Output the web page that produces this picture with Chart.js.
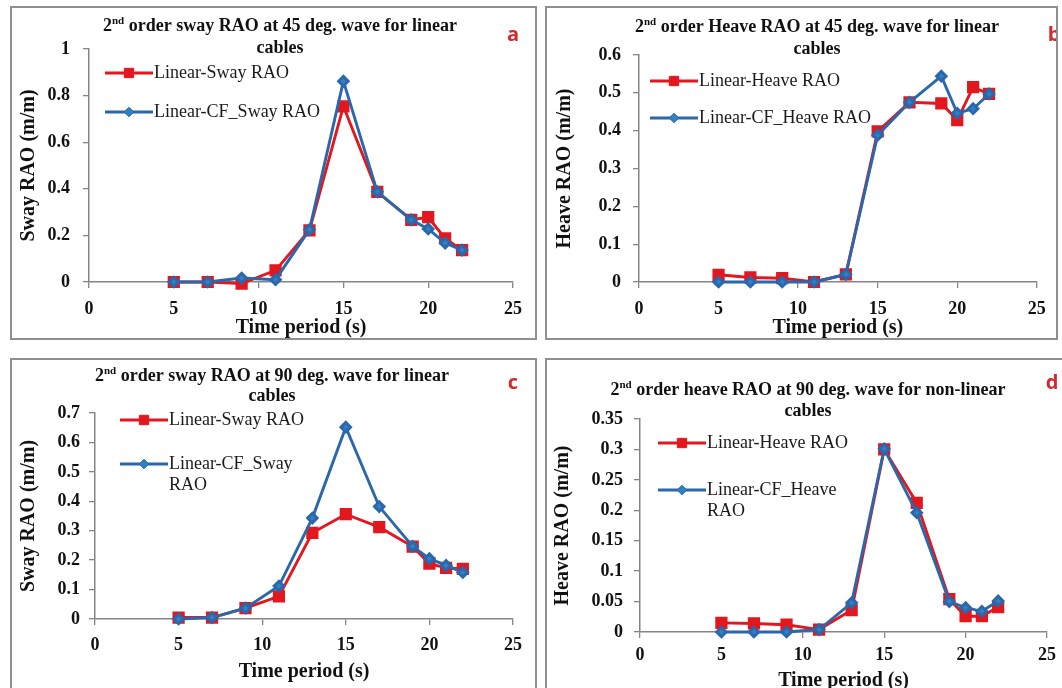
<!DOCTYPE html>
<html>
<head>
<meta charset="utf-8">
<title>2nd order RAO</title>
<script src="https://cdn.jsdelivr.net/npm/chart.js@4.4.0/dist/chart.umd.min.js"></script>
<style>
  html, body { margin: 0; padding: 0; background: #fff; }
  body { width: 1062px; height: 688px; position: relative; overflow: hidden; }
  .panel { position: absolute; border: 2px solid #8f8f8f; background: #fff; }
  .panel canvas { display: block; }
</style>
</head>
<body>
<div class="panel" id="panel-a"><canvas id="chart-a"></canvas></div>
<div class="panel" id="panel-b"><canvas id="chart-b"></canvas></div>
<div class="panel" id="panel-c"><canvas id="chart-c"></canvas></div>
<div class="panel" id="panel-d"><canvas id="chart-d"></canvas></div>
<script>
// wave periods (s)
const periods = [5, 7, 9, 11, 13, 15, 17, 19, 20, 21, 22];
const xTicks = [0, 5, 10, 15, 20, 25];

// a: sway, 45 deg
const swayLinear45 = [0, 0, -0.007, 0.05, 0.222, 0.754, 0.387, 0.267, 0.278, 0.187, 0.137];
const swayCF45 = [0, 0, 0.017, 0.01, 0.225, 0.862, 0.387, 0.267, 0.228, 0.167, 0.137];
const swayTicks45 = [0, 0.2, 0.4, 0.6, 0.8, 1];

// b: heave, 45 deg
const heaveLinear45 = [0.019, 0.012, 0.01, 0, 0.02, 0.398, 0.475, 0.472, 0.428, 0.515, 0.497];
const heaveCF45 = [0, 0, 0, 0, 0.02, 0.388, 0.475, 0.544, 0.446, 0.458, 0.497];
const heaveTicks45 = [0, 0.1, 0.2, 0.3, 0.4, 0.5, 0.6];

// c: sway, 90 deg
const swayLinear90 = [0.005, 0.005, 0.037, 0.077, 0.293, 0.356, 0.312, 0.246, 0.188, 0.174, 0.17];
const swayCF90 = [0, 0.005, 0.037, 0.112, 0.343, 0.652, 0.382, 0.247, 0.205, 0.182, 0.158];
const swayTicks90 = [0, 0.1, 0.2, 0.3, 0.4, 0.5, 0.6, 0.7];

// d: heave, 90 deg
const heaveLinear90 = [0.015, 0.014, 0.012, 0.004, 0.036, 0.3, 0.212, 0.054, 0.026, 0.026, 0.041];
const heaveCF90 = [0, 0, 0, 0.004, 0.048, 0.301, 0.196, 0.05, 0.04, 0.034, 0.051];
const heaveTicks90 = [0, 0.05, 0.1, 0.15, 0.2, 0.25, 0.3, 0.35];

const SERIF = '"Liberation Serif", "Times New Roman", serif';
const RED = '#e3171e';
const BLUE = '#2a67ab';
const BLUE_MARK = '#3280c2';
const AXIS = '#858585';
const BORDER = 2;

// page-coordinate layout of each framed panel
const layouts = {
    a: { box: [10, 6, 537, 340], area: [89, 49, 513, 282], yGap: 19, xGap: 27, yTitleX: 29, xTitleY: 328,
         titleX: 280, titleY: [26, 48], legendX: 105, legendY: [73, 112], legendWrap: 220, letter: [513, 35] },
    b: { box: [545, 6, 1058, 340], area: [639, 55, 1044, 282], yGap: 18, xGap: 27, yTitleX: 565, xTitleY: 328,
         titleX: 817, titleY: [27, 49], legendX: 650, legendY: [81, 118], legendWrap: 240, letter: [1054, 35] },
    c: { box: [10, 358, 537, 700], area: [95, 413, 513, 619], yGap: 15, xGap: 26, yTitleX: 29, xTitleY: 672,
         titleX: 272, titleY: [376, 396], legendX: 120, legendY: [420, 464], legendWrap: 140, letter: [513, 383] },
    d: { box: [545, 358, 1065, 700], area: [640, 419, 1047, 632], yGap: 17, xGap: 23, yTitleX: 563, xTitleY: 681,
         titleX: 808, titleY: [390, 411], legendX: 658, legendY: [443, 490], legendWrap: 150, letter: [1052, 383] }
};

const wrapText = (ctx, text, maxWidth) => {
    if (ctx.measureText(text).width <= maxWidth) return [text];
    const cut = text.lastIndexOf(' ');
    return [text.slice(0, cut), text.slice(cut + 1)];
};

// title with raised ordinal, legend drawn inside the plot, panel letter
const panelDecor = {
    id: 'panelDecor',
    afterDraw(chart, args, opts) {
        const ctx = chart.ctx;
        ctx.save();
        ctx.textBaseline = 'middle';
        ctx.fillStyle = '#111';
        opts.title.forEach((line, i) => {
            const y = opts.titleY[i];
            const m = line.match(/^(\d+)(st|nd|rd|th)(.*)$/);
            ctx.font = 'bold 18px ' + SERIF;
            if (m) {
                const w1 = ctx.measureText(m[1]).width;
                const w3 = ctx.measureText(m[3]).width;
                ctx.font = 'bold 11px ' + SERIF;
                const w2 = ctx.measureText(m[2]).width;
                const x = opts.titleX - (w1 + w2 + w3) / 2;
                ctx.textAlign = 'left';
                ctx.fillText(m[2], x + w1, y - 5);
                ctx.font = 'bold 18px ' + SERIF;
                ctx.fillText(m[1], x, y);
                ctx.fillText(m[3], x + w1 + w2, y);
            } else {
                ctx.textAlign = 'center';
                ctx.fillText(line, opts.titleX, y);
            }
        });

        chart.data.datasets.forEach((ds, i) => {
            const x0 = opts.legendX;
            const y = opts.legendY[i];
            ctx.strokeStyle = ds.borderColor;
            ctx.lineWidth = ds.borderWidth;
            ctx.beginPath();
            ctx.moveTo(x0, y);
            ctx.lineTo(x0 + 48, y);
            ctx.stroke();
            ctx.fillStyle = ds.pointBackgroundColor;
            ctx.strokeStyle = ds.pointBorderColor;
            ctx.lineWidth = 1;
            Chart.helpers.drawPoint(ctx, { pointStyle: ds.pointStyle, radius: ds.pointRadius, borderWidth: 1, rotation: 0 }, x0 + 24, y);
            ctx.font = '18px ' + SERIF;
            ctx.fillStyle = '#1a1a1a';
            ctx.textAlign = 'left';
            wrapText(ctx, ds.label, opts.legendWrap).forEach((t, k) => ctx.fillText(t, x0 + 49, y + k * 21));
        });

        ctx.font = 'bold 20px "Open Sans", "Liberation Sans", sans-serif';
        ctx.fillStyle = '#d42a2f';
        ctx.textAlign = 'center';
        ctx.fillText(opts.letter, opts.letterX, opts.letterY);
        ctx.restore();
    }
};

const makePanel = (key, redLabel, red, blueLabel, blue, yTicks, yTitle, title) => {
    const L = layouts[key];
    const panel = document.getElementById('panel-' + key);
    const [bl, bt, br, bb] = L.box;
    const ox = bl + BORDER, oy = bt + BORDER;
    const w = br - bl - 2 * BORDER, h = bb - bt - 2 * BORDER;
    panel.style.left = bl + 'px';
    panel.style.top = bt + 'px';
    const canvas = document.getElementById('chart-' + key);
    canvas.width = w;
    canvas.height = h;
    canvas.style.width = w + 'px';
    canvas.style.height = h + 'px';

    const [ax0, ayTop, ax1, ayZero] = L.area;
    const tickFont = { family: SERIF, size: 18, weight: 'bold' };
    const titleFont = { family: SERIF, size: 20, weight: 'bold' };
    const tickLen = 6;
    const yStep = yTicks[1] - yTicks[0];

    new Chart(canvas, {
        type: 'line',
        data: {
            datasets: [{
                label: redLabel,
                data: periods.map((p, i) => ({ x: p, y: red[i] })),
                borderColor: RED,
                backgroundColor: RED,
                pointBackgroundColor: RED,
                pointBorderColor: RED,
                pointStyle: 'rect',
                pointRadius: 6.6,
                borderWidth: 2.9,
                tension: 0,
                clip: false,
                order: 2
            }, {
                label: blueLabel,
                data: periods.map((p, i) => ({ x: p, y: blue[i] })),
                borderColor: BLUE,
                backgroundColor: BLUE_MARK,
                pointBackgroundColor: BLUE_MARK,
                pointBorderColor: BLUE,
                pointStyle: 'rectRot',
                pointRadius: 4.8,
                borderWidth: 2.9,
                tension: 0,
                clip: false,
                order: 1
            }]
        },
        options: {
            responsive: false,
            animation: false,
            events: [],
            layout: { padding: { left: 0, top: ayTop - oy, right: ox + w - ax1, bottom: 0 } },
            plugins: {
                legend: { display: false },
                tooltip: { enabled: false },
                panelDecor: {
                    title: title,
                    titleX: L.titleX - ox,
                    titleY: L.titleY.map(v => v - oy),
                    legendX: L.legendX - ox,
                    legendY: L.legendY.map(v => v - oy),
                    legendWrap: L.legendWrap,
                    letter: key,
                    letterX: L.letter[0] - ox,
                    letterY: L.letter[1] - oy
                }
            },
            scales: {
                x: {
                    type: 'linear',
                    min: xTicks[0],
                    max: xTicks[xTicks.length - 1],
                    afterBuildTicks: s => { s.ticks = xTicks.map(v => ({ value: v })); },
                    afterFit: s => { s.height = oy + h - ayZero; },
                    ticks: { font: tickFont, color: '#111', padding: L.xGap - tickLen - 10.8, maxRotation: 0 },
                    grid: { display: true, drawOnChartArea: false, tickLength: tickLen, color: AXIS, lineWidth: 1.3 },
                    border: { color: AXIS, width: 1.5 },
                    title: {
                        display: true,
                        text: 'Time period (s)',
                        font: titleFont,
                        color: '#111',
                        padding: { top: 0, bottom: h - (L.xTitleY - oy) - 12 }
                    }
                },
                y: {
                    min: yTicks[0],
                    max: yTicks[yTicks.length - 1],
                    afterBuildTicks: s => { s.ticks = yTicks.map(v => ({ value: v })); },
                    afterFit: s => { s.width = ax0 - ox; },
                    ticks: {
                        font: tickFont,
                        color: '#111',
                        padding: L.yGap - tickLen,
                        stepSize: yStep,
                        callback: v => String(+v.toFixed(2))
                    },
                    grid: { display: true, drawOnChartArea: false, tickLength: tickLen, color: AXIS, lineWidth: 1.3 },
                    border: { color: AXIS, width: 1.5 },
                    title: {
                        display: true,
                        text: yTitle,
                        font: titleFont,
                        color: '#111',
                        padding: { top: (L.yTitleX - ox) - 12, bottom: 0 }
                    }
                }
            }
        },
        plugins: [panelDecor]
    });
};

makePanel('a', 'Linear-Sway RAO', swayLinear45, 'Linear-CF_Sway RAO', swayCF45, swayTicks45,
    'Sway RAO (m/m)', ['2nd order sway RAO at 45 deg. wave for linear', 'cables']);
makePanel('b', 'Linear-Heave RAO', heaveLinear45, 'Linear-CF_Heave RAO', heaveCF45, heaveTicks45,
    'Heave RAO (m/m)', ['2nd order Heave RAO at 45 deg. wave for linear', 'cables']);
makePanel('c', 'Linear-Sway RAO', swayLinear90, 'Linear-CF_Sway RAO', swayCF90, swayTicks90,
    'Sway RAO (m/m)', ['2nd order sway RAO at 90 deg. wave for linear', 'cables']);
makePanel('d', 'Linear-Heave RAO', heaveLinear90, 'Linear-CF_Heave RAO', heaveCF90, heaveTicks90,
    'Heave RAO (m/m)', ['2nd order heave RAO at 90 deg. wave for non-linear', 'cables']);
</script>
</body>
</html>
